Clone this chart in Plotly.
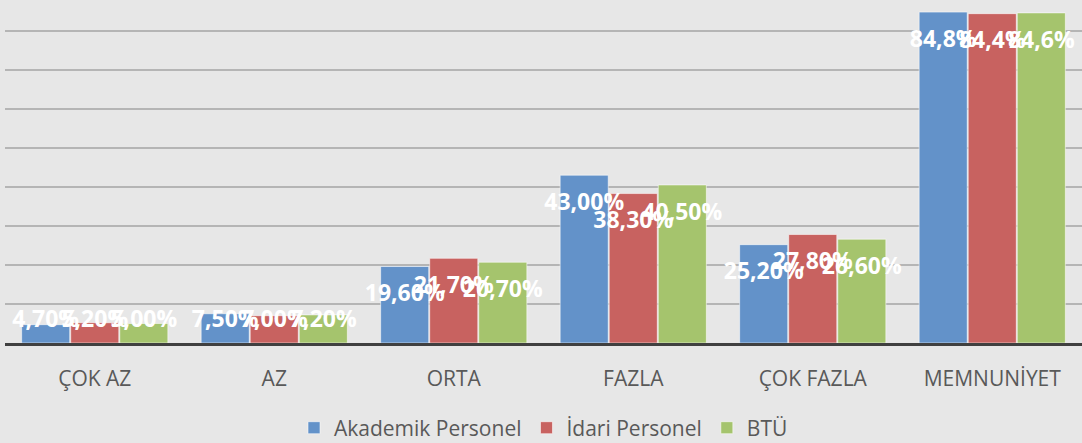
import plotly.graph_objects as go

categories = ["ÇOK AZ", "AZ", "ORTA", "FAZLA", "ÇOK FAZLA", "MEMNUNİYET"]
akademik = [4.7, 7.5, 19.6, 43.0, 25.2, 84.8]
idari = [5.2, 7.0, 21.7, 38.3, 27.8, 84.4]
btu = [5.0, 7.2, 20.7, 40.5, 26.6, 84.6]
series_names = ["Akademik Personel", "İdari Personel", "BTÜ"]
colors = ["#6392C9", "#C86260", "#A5C46D"]

LABEL_DROP = 4.5     # label sits this many % below the bar top
LABEL_FLOOR = 8.6    # labels never go below this level (kept above the axis)


def fmt(v, last):
    if last:
        return f"{v:.1f}%".replace(".", ",")
    return f"{v:.2f}%".replace(".", ",")


fig = go.Figure()
all_series = [akademik, idari, btu]
for name, vals, col in zip(series_names, all_series, colors):
    fig.add_trace(go.Bar(
        x=categories, y=vals, name=name,
        marker=dict(color=col, line=dict(color="rgba(255,255,255,0.55)", width=1)),
    ))
for name, vals in zip(series_names, all_series):
    labels = [fmt(v, i == len(vals) - 1) for i, v in enumerate(vals)]
    ypos = [max(v - LABEL_DROP, LABEL_FLOOR) for v in vals]
    fig.add_trace(go.Scatter(
        x=categories, y=ypos, mode="text", text=labels, name=name,
        textposition="bottom center", showlegend=False, hoverinfo="skip",
        textfont=dict(family="Open Sans", size=23, color="white", weight="bold"),
        cliponaxis=False,
    ))

fig.update_layout(
    width=1082, height=443,
    margin=dict(l=5, r=0, t=0, b=100, autoexpand=False),
    paper_bgcolor="#E7E7E7", plot_bgcolor="rgba(0,0,0,0)",
    barmode="group", bargap=0.18, bargroupgap=0.02,
    scattermode="group", scattergap=0.18,
    font=dict(family="Open Sans", color="#595959", size=21),
    showlegend=True,
    legend=dict(orientation="h", x=0.5, xanchor="center", y=-0.248, yanchor="middle",
                font=dict(size=21, color="#595959"), traceorder="normal"),
    xaxis=dict(showline=True, linecolor="#404040", linewidth=3, ticks="",
               ticklabelstandoff=15, tickfont=dict(size=21, color="#595959")),
    yaxis=dict(range=[0, 87.9], dtick=10, showgrid=True, gridcolor="#B5B5B5", gridwidth=1.5,
               showticklabels=False, zeroline=False, ticks=""),
)

fig.write_html("out.html", config={"displayModeBar": False},
               post_script="document.body.style.margin='0';")
